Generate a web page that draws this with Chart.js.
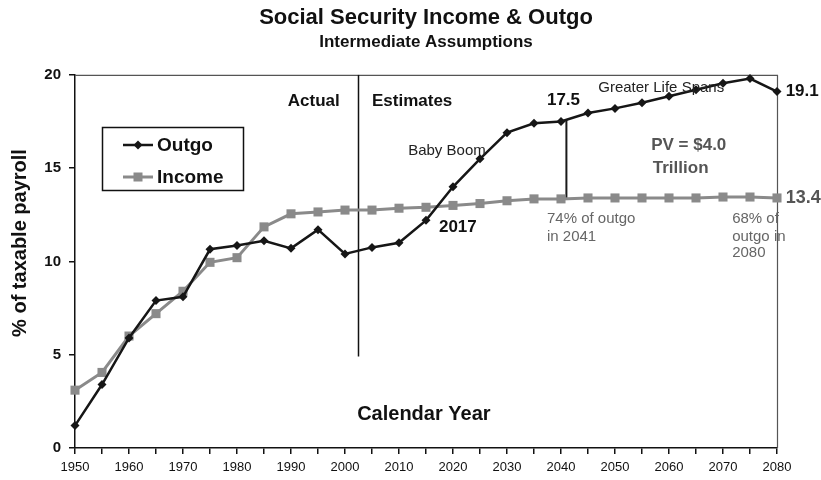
<!DOCTYPE html>
<html>
<head>
<meta charset="utf-8">
<title>Social Security Income &amp; Outgo</title>
<script src="https://cdn.jsdelivr.net/npm/chart.js@4.4.1/dist/chart.umd.min.js"></script>
<style>
  html, body { margin: 0; padding: 0; background: #fff; }
  #wrap { width: 821px; height: 480px; }
</style>
</head>
<body>
<div id="wrap"><canvas id="ssChart"></canvas></div>
<script>
// % of taxable payroll, every 5 years
const years = [1950, 1955, 1960, 1965, 1970, 1975, 1980, 1985, 1990, 1995, 2000, 2005, 2010,
  2015, 2020, 2025, 2030, 2035, 2040, 2045, 2050, 2055, 2060, 2065, 2070, 2075, 2080];
const outgo = [1.2, 3.4, 5.9, 7.9, 8.1, 10.65, 10.85, 11.1, 10.7, 11.7, 10.4, 10.75, 11.0,
  12.2, 14.0, 15.5, 16.9, 17.4, 17.5, 17.95, 18.2, 18.5, 18.85, 19.2, 19.55, 19.8, 19.1];
const income = [3.1, 4.05, 6.0, 7.2, 8.4, 9.95, 10.2, 11.85, 12.55, 12.65, 12.75, 12.75, 12.85,
  12.9, 13.0, 13.1, 13.25, 13.35, 13.35, 13.4, 13.4, 13.4, 13.4, 13.4, 13.45, 13.45, 13.4];

// actual / estimates split, and the 2041 shortfall marker
const splitYear = [2002.5, 2002.5];
const splitRange = [4.9, 20];
const gapYear = [2041, 2041];
const gapRange = [13.35, 17.6];

const yTickValues = [0, 5, 10, 15, 20];

const FONT = '"Liberation Sans", Arial, sans-serif';
const OUTGO_COLOR = '#161616';
const INCOME_COLOR = '#8a8a8a';

const toPoints = (xs, ys) => xs.map((x, i) => ({ x: x, y: ys[i] }));

// text placed in data units: [text, year, value, size, weight, color, align]
const notes = [
  ['Actual', 1989.4, 18.6, 17, 'bold', '#111', 'left'],
  ['Estimates', 2005, 18.6, 17, 'bold', '#111', 'left'],
  ['Baby Boom', 2011.7, 15.9, 15, 'normal', '#222', 'left'],
  ['17.5', 2037.4, 18.65, 17, 'bold', '#111', 'left'],
  ['Greater Life Spans', 2046.9, 19.3, 15, 'normal', '#222', 'left'],
  ['19.1', 2081.6, 19.1, 17, 'bold', '#111', 'left'],
  ['PV = $4.0', 2056.7, 16.2, 17, 'bold', '#555', 'left'],
  ['Trillion', 2057, 15.0, 17, 'bold', '#555', 'left'],
  ['13.4', 2081.6, 13.4, 18, 'bold', '#555', 'left'],
  ['2017', 2017.4, 11.85, 17, 'bold', '#111', 'left'],
  ['74% of outgo', 2037.4, 12.28, 15, 'normal', '#666', 'left'],
  ['in 2041', 2037.4, 11.31, 15, 'normal', '#666', 'left'],
  ['68% of', 2071.7, 12.28, 15, 'normal', '#666', 'left'],
  ['outgo in', 2071.7, 11.31, 15, 'normal', '#666', 'left'],
  ['2080', 2071.7, 10.46, 15, 'normal', '#666', 'left'],
  ['Calendar Year', 2014.6, 1.82, 20, 'bold', '#111', 'center']
];

function diamond(ctx, cx, cy, r) {
  ctx.beginPath();
  ctx.moveTo(cx, cy - r);
  ctx.lineTo(cx + r, cy);
  ctx.lineTo(cx, cy + r);
  ctx.lineTo(cx - r, cy);
  ctx.closePath();
  ctx.fill();
}

const decorations = {
  id: 'decorations',
  beforeDatasetsDraw(chart) {
    const { ctx, chartArea: a } = chart;
    ctx.save();
    ctx.strokeStyle = '#555';
    ctx.lineWidth = 1.2;
    ctx.beginPath();
    ctx.moveTo(a.left, a.top + 0.5);
    ctx.lineTo(a.right + 0.5, a.top + 0.5);
    ctx.lineTo(a.right + 0.5, a.bottom);
    ctx.stroke();
    ctx.restore();
  },
  afterDraw(chart) {
    const { ctx, scales: { x, y } } = chart;
    ctx.save();
    ctx.textBaseline = 'middle';

    notes.forEach(([text, yr, val, size, weight, color, align]) => {
      ctx.font = weight + ' ' + size + 'px ' + FONT;
      ctx.fillStyle = color;
      ctx.textAlign = align;
      ctx.fillText(text, x.getPixelForValue(yr), y.getPixelForValue(val));
    });

    // y axis title
    ctx.save();
    ctx.translate(20, 243);
    ctx.rotate(-Math.PI / 2);
    ctx.textAlign = 'center';
    ctx.font = 'bold 20px ' + FONT;
    ctx.fillStyle = '#111';
    ctx.fillText('% of taxable payroll', 0, 0);
    ctx.restore();

    // legend box
    const bx = 102.5, by = 127.5, bw = 141, bh = 63;
    ctx.fillStyle = '#fff';
    ctx.fillRect(bx, by, bw, bh);
    ctx.strokeStyle = '#111';
    ctx.lineWidth = 1.5;
    ctx.strokeRect(bx, by, bw, bh);

    ctx.textAlign = 'left';
    ctx.font = 'bold 19px ' + FONT;

    let ry = 145;
    ctx.strokeStyle = OUTGO_COLOR;
    ctx.lineWidth = 2.5;
    ctx.beginPath();
    ctx.moveTo(123, ry);
    ctx.lineTo(153, ry);
    ctx.stroke();
    ctx.fillStyle = OUTGO_COLOR;
    diamond(ctx, 138, ry, 4.5);
    ctx.fillStyle = '#111';
    ctx.fillText('Outgo', 157, ry + 1);

    ry = 177;
    ctx.strokeStyle = INCOME_COLOR;
    ctx.lineWidth = 3;
    ctx.beginPath();
    ctx.moveTo(123, ry);
    ctx.lineTo(153, ry);
    ctx.stroke();
    ctx.fillStyle = INCOME_COLOR;
    ctx.fillRect(133.5, ry - 4.5, 9, 9);
    ctx.fillStyle = '#111';
    ctx.fillText('Income', 157, ry + 1);

    ctx.restore();
  }
};

new Chart(document.getElementById('ssChart'), {
  type: 'line',
  data: {
    datasets: [
      {
        label: 'Outgo',
        data: toPoints(years, outgo),
        borderColor: OUTGO_COLOR,
        backgroundColor: OUTGO_COLOR,
        borderWidth: 2.5,
        pointStyle: 'rectRot',
        pointRadius: 4.5,
        pointBorderWidth: 0,
        tension: 0,
        clip: false
      },
      {
        label: 'Income',
        data: toPoints(years, income),
        borderColor: INCOME_COLOR,
        backgroundColor: INCOME_COLOR,
        borderWidth: 3,
        pointStyle: 'rect',
        pointRadius: 6.4,
        pointBorderWidth: 0,
        tension: 0,
        clip: false
      },
      {
        label: 'split',
        data: toPoints(splitYear, splitRange),
        borderColor: '#111',
        borderWidth: 1.5,
        pointRadius: 0
      },
      {
        label: 'gap',
        data: toPoints(gapYear, gapRange),
        borderColor: '#1a1a1a',
        borderWidth: 2,
        pointRadius: 0
      }
    ]
  },
  options: {
    responsive: true,
    maintainAspectRatio: false,
    animation: false,
    layout: { padding: { top: 0, right: 44, left: 0, bottom: 0 } },
    plugins: {
      legend: { display: false },
      tooltip: { enabled: false },
      title: {
        display: true,
        text: 'Social Security Income & Outgo',
        fullSize: false,
        color: '#111',
        font: { family: FONT, size: 22, weight: 'bold' },
        padding: { top: 5, bottom: 0 }
      },
      subtitle: {
        display: true,
        text: 'Intermediate Assumptions',
        fullSize: false,
        color: '#111',
        font: { family: FONT, size: 17, weight: 'bold' },
        padding: { top: 1, bottom: 22 }
      }
    },
    scales: {
      x: {
        type: 'linear',
        min: 1950,
        max: 2080,
        afterFit: (scale) => { scale.height = 32; },
        ticks: {
          stepSize: 5,
          autoSkip: false,
          maxRotation: 0,
          padding: 6,
          color: '#111',
          font: { family: FONT, size: 13 },
          callback: (v) => (v % 10 === 0 ? String(v) : '')
        },
        grid: { drawOnChartArea: false, tickLength: 6, color: '#111', lineWidth: 1.5 },
        border: { color: '#111', width: 1.5 }
      },
      y: {
        min: 0,
        max: 20,
        afterFit: (scale) => { scale.width = 75; },
        afterBuildTicks: (scale) => { scale.ticks = yTickValues.map((v) => ({ value: v })); },
        ticks: {
          padding: 8,
          color: '#111',
          font: { family: FONT, size: 15, weight: 'bold' }
        },
        grid: { drawOnChartArea: false, tickLength: 6, color: '#111', lineWidth: 1.5 },
        border: { color: '#111', width: 1.5 }
      }
    }
  },
  plugins: [decorations]
});
</script>
</body>
</html>
